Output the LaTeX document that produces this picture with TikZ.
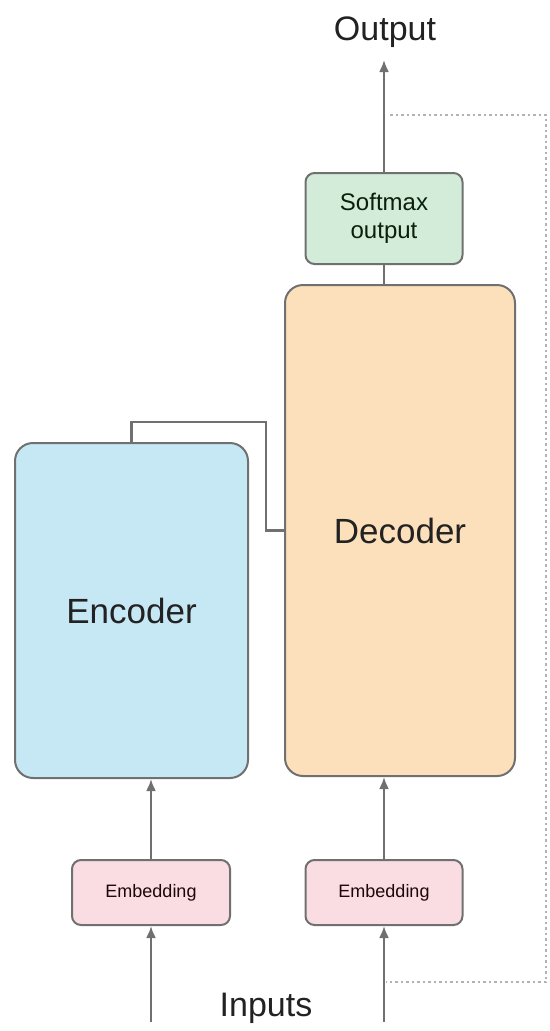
\documentclass[tikz,border=0pt]{standalone}
\usepackage{fontspec}
\setmainfont{Liberation Sans}
\usepackage{xcolor}
\usepackage{tikz}
\usetikzlibrary{arrows.meta}

\definecolor{encblue}{HTML}{C6E8F5}
\definecolor{decpeach}{HTML}{FCE0BC}
\definecolor{softgreen}{HTML}{D3ECD9}
\definecolor{embpink}{HTML}{F9DDE2}
\definecolor{edge}{HTML}{707070}
\definecolor{ink}{HTML}{222222}

\tikzset{
  block/.style={draw=edge, line width=2pt, rounded corners=18pt, text=ink,
    font=\fontsize{35}{40}\selectfont},
  smallblock/.style={draw=edge, line width=2pt, rounded corners=9pt},
  wire/.style={draw=edge, line width=2.2pt},
  arr/.style={wire, -{Latex[length=12pt,width=10pt]}},
  dots/.style={draw=gray!60, line width=1.6pt, dash pattern=on 2.5pt off 3pt},
  label/.style={text=ink, font=\fontsize{34}{40}\selectfont}
}

\begin{document}
\begin{tikzpicture}[x=1pt,y=-1pt]
\useasboundingbox (0,0) rectangle (549,1031);

% main blocks
\node[block, fill=encblue, minimum width=233pt, minimum height=335pt] (enc) at (131.5,610.5) {Encoder};
\node[block, fill=decpeach, minimum width=230pt, minimum height=491pt] (dec) at (400,530.5) {Decoder};
\node[smallblock, fill=softgreen, minimum width=157pt, minimum height=91pt, align=center,
  text=ink!80!green!40!black, font=\fontsize{24}{28}\selectfont] (soft) at (384,218.5) {Softmax\\output};
\node[smallblock, fill=embpink, minimum width=158pt, minimum height=65pt,
  text=ink!70!red!30!black, font=\fontsize{18}{20}\selectfont] (embL) at (151,892.5) {Embedding};
\node[smallblock, fill=embpink, minimum width=157pt, minimum height=65pt,
  text=ink!70!red!30!black, font=\fontsize{18}{20}\selectfont] (embR) at (384,892.5) {Embedding};

% texts
\node[label] (out) at (385,32) {Output};
\node[label] (inp) at (266,1008) {Inputs};

% end points
\coordinate (outtip) at (384,60);
\coordinate (inL) at (151,1022);
\coordinate (inR) at (384,1022);
\coordinate (bend) at (266,422);
\coordinate (d1) at (390,115);
\coordinate (d2) at (546,115);
\coordinate (d3) at (546,982);
\coordinate (d4) at (386,982);

% connectors
\draw[arr] (inL) -- (embL.south);
\draw[arr] (inR) -- (embR.south);
\draw[arr] (embL.north) -- (embL.north |- enc.south);
\draw[arr] (embR.north) -- (embR.north |- dec.south);
\draw[wire] (enc.north) |- (bend) |- (dec.west);
\draw[wire] (soft.south) -- (soft.south |- dec.north);
\draw[arr] (soft.north) -- (outtip);
\draw[dots] (d1) -- (d2) -- (d3) -- (d4);
\end{tikzpicture}
\end{document}
